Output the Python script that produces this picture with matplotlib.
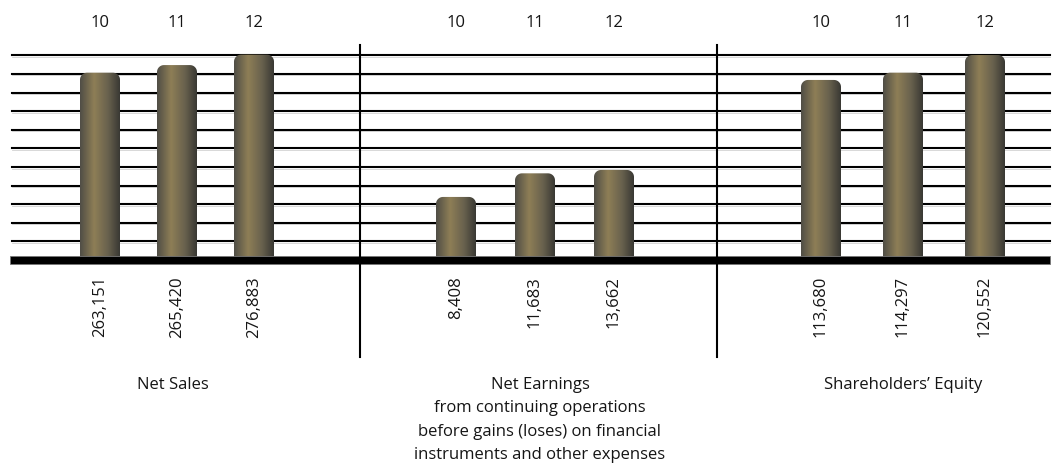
import numpy as np
import matplotlib
matplotlib.use("Agg")
from matplotlib import pyplot as plt
from matplotlib.path import Path
from matplotlib.patches import PathPatch, Rectangle

plt.rcParams['font.family'] = ['Open Sans', 'DejaVu Sans']

years = ["10", "11", "12"]
groups = ["Net Sales",
          "Net Earnings\nfrom continuing operations\nbefore gains (loses) on financial\ninstruments and other expenses",
          "Shareholders’ Equity"]
values = [["263,151", "265,420", "276,883"],
          ["8,408", "11,683", "13,662"],
          ["113,680", "114,297", "120,552"]]
# bar heights, in grid-line units
heights = [[10.07, 10.48, 11.04],
           [3.39, 4.66, 4.84],
           [9.68, 10.07, 11.02]]

# layout (pixel based x axis, grid units on y)
W, H = 1060, 470
BASE = 260.0
STEP = 18.6
group_mid = [177, 535, 903]
group_gap = [77, 79, 82]
label_shift = [-4, 5, 0]
bar_w = 40
dividers = [360, 717]
FS = 12
TXT = '#151515'


def py(p):
    return (BASE - p) / STEP


fig = plt.figure(figsize=(W / 100, H / 100), dpi=100)
ax = fig.add_axes([0, 0, 1, 1])
ax.set_xlim(0, W)
ax.set_ylim(py(H), py(0))
ax.axis('off')

# grid lines
for g in range(1, 12):
    ax.plot([12, 1050], [g - 1.5 / STEP, g - 1.5 / STEP], color='#d2d2d2', lw=0.6, zorder=1)
    ax.plot([12, 1050], [g, g], color='black', lw=1.5, zorder=2)

# gradient for the cylinders
cols = np.array([[80, 78, 70], [142, 126, 86], [105, 98, 78], [58, 57, 52]]) / 255.0
stops = np.array([0.0, 0.35, 0.7, 1.0])
xs = np.linspace(0, 1, 64)
grad = np.stack([np.interp(xs, stops, cols[:, c]) for c in range(3)], axis=-1)[None, :, :]

rx = 7.0
ry = 7.0 / STEP
t = np.linspace(0, np.pi / 2, 12)
for gi in range(3):
    for j in range(3):
        cx = group_mid[gi] + (j - 1) * group_gap[gi]
        x0, x1 = cx - bar_w / 2, cx + bar_w / 2
        h = heights[gi][j]
        pts = [(x0, 0)]
        pts += [(x0 + rx - rx * np.cos(a), h - ry + ry * np.sin(a)) for a in t]
        pts += [(x1 - rx + rx * np.sin(a), h - ry + ry * np.cos(a)) for a in t]
        pts += [(x1, 0), (x0, 0)]
        codes = [Path.MOVETO] + [Path.LINETO] * (len(pts) - 2) + [Path.CLOSEPOLY]
        patch = PathPatch(Path(pts, codes), facecolor='none', edgecolor='none', zorder=3)
        ax.add_patch(patch)
        im = ax.imshow(grad, extent=[x0, x1, 0, h], aspect='auto', zorder=3, interpolation='bilinear')
        im.set_clip_path(patch)

        ax.text(cx, py(23), years[j], ha='center', va='center', fontsize=FS, color=TXT)
        ax.text(cx, py(276), values[gi][j], rotation=90, ha='center', va='top',
                fontsize=FS, color=TXT)

    ax.text(group_mid[gi] + label_shift[gi], py(377), groups[gi], ha='center', va='top',
            fontsize=FS, color=TXT, linespacing=1.62)

# base line
ax.add_patch(Rectangle((10, py(264)), 1040, 8 / STEP, facecolor='black',
                       edgecolor='#777777', lw=0.6, zorder=5))

for d in dividers:
    ax.plot([d, d], [py(45), py(357)], color='black', lw=1.5, zorder=6)

ax.set_xlim(0, W)
ax.set_ylim(py(H), py(0))
fig.savefig("out.png", dpi=100)
